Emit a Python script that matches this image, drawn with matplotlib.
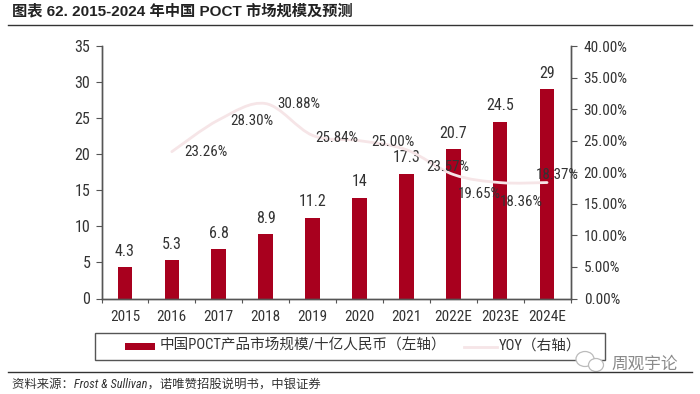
import matplotlib
matplotlib.use('Agg')
import matplotlib.pyplot as plt
import numpy as np
from matplotlib.path import Path
from matplotlib.patches import PathPatch, Rectangle, Ellipse
from matplotlib.lines import Line2D
from matplotlib.ticker import FuncFormatter
import logging
logging.getLogger('matplotlib.font_manager').setLevel(logging.ERROR)

NARROW = ['Roboto Condensed', 'Liberation Sans', 'Noto Sans CJK SC', 'DejaVu Sans']
plt.rcParams['font.family'] = NARROW

categories = ['2015', '2016', '2017', '2018', '2019', '2020', '2021', '2022E', '2023E', '2024E']
market_size = [4.3, 5.3, 6.8, 8.9, 11.2, 14, 17.3, 20.7, 24.5, 29]
size_labels = ['4.3', '5.3', '6.8', '8.9', '11.2', '14', '17.3', '20.7', '24.5', '29']
yoy = [23.26, 28.30, 30.88, 25.84, 25.00, 23.57, 19.65, 18.36, 18.37]
yoy_labels = ['23.26%', '28.30%', '30.88%', '25.84%', '25.00%', '23.57%', '19.65%', '18.36%', '18.37%']
yoy_label_offsets = [(33.6, -0.5), (32.7, -1.3), (32.8, -0.5), (24, -2.8), (33, -1.5),
                     (41, -17.5), (26, -20), (21, -19), (10.5, 8)]
left_ticks = [0, 5, 10, 15, 20, 25, 30, 35]
right_ticks = [0, 5, 10, 15, 20, 25, 30, 35, 40]

W, H = 700, 394
TXT = '#333333'
BAR = '#A8001E'
LINE = '#F6E5E7'

fig = plt.figure(figsize=(W / 100, H / 100), dpi=100, facecolor='white')
ax = fig.add_axes([101.5 / W, 1 - 298.5 / H, 469 / W, 252.5 / H])
ax2 = ax.twinx()
ax.set_zorder(1)
ax2.set_zorder(2)
ax2.patch.set_visible(False)

x = np.arange(len(categories))
ax.bar(x, market_size, width=0.31, color=BAR, zorder=2)
ax.set_xlim(-0.5, len(categories) - 0.5)
ax.set_ylim(0, 35)
ax2.set_ylim(0, 40)
ax.set_yticks(left_ticks)
ax2.set_yticks(right_ticks)
ax2.yaxis.set_major_formatter(FuncFormatter(lambda v, p: f'{v:.2f}%'))
ax.set_xticks(x, categories)
ax.set_xticks(np.arange(-0.5, len(categories), 1), minor=True)
ax.tick_params(axis='x', which='major', length=0, labelsize=11, labelcolor=TXT, pad=8.5)
ax.tick_params(axis='x', which='minor', length=3, color='#555555', direction='out', width=0.8)
ax.tick_params(axis='y', length=4.5, color='#555555', width=0.8, labelsize=11.5, labelcolor=TXT, pad=3.5)
ax2.tick_params(axis='y', length=4.5, color='#555555', width=0.8, labelsize=11, labelcolor=TXT, pad=5)
for a in (ax, ax2):
    a.spines['top'].set_visible(False)
    for s in ('left', 'right', 'bottom'):
        a.spines[s].set_color('#555555')
        a.spines[s].set_linewidth(1.0)

for xi, v, t in zip(x, market_size, size_labels):
    ax.annotate(t, (xi, v), xytext=(0, 6), textcoords='offset points', ha='center', va='bottom',
                fontsize=11.5, color=TXT, zorder=5)

# smooth curve through the YOY values (Catmull-Rom as cubic Bezier segments)
xl = x[1:].astype(float)
yl = np.array(yoy, dtype=float)
pts = np.column_stack([xl, yl])
verts = [pts[0]]
codes = [Path.MOVETO]
for i in range(len(pts) - 1):
    p0 = pts[max(i - 1, 0)]
    p1, p2 = pts[i], pts[i + 1]
    p3 = pts[min(i + 2, len(pts) - 1)]
    verts += [p1 + (p2 - p0) / 6, p2 - (p3 - p1) / 6, p2]
    codes += [Path.CURVE4] * 3
ax2.add_patch(PathPatch(Path(verts, codes), fill=False, edgecolor=LINE, lw=2.0, capstyle='round', zorder=3))

for xi, v, t, off in zip(xl, yoy, yoy_labels, yoy_label_offsets):
    ax2.annotate(t, (xi, v), xytext=off, textcoords='offset pixels', ha='center', va='center',
                 fontsize=10.8, color=TXT, zorder=6)

def px(xp, yp):
    return xp / W, 1 - yp / H

# header
fig.text(*px(12, 11), '图表 62. 2015-2024 年中国 POCT 市场规模及预测', fontsize=11, fontweight='bold',
         family=['Liberation Sans', 'Noto Sans CJK SC', 'DejaVu Sans'], color='#222222', va='center', ha='left')
fig.add_artist(Line2D([8 / W, 692 / W], [1 - 24.5 / H] * 2, color='#333333', lw=1.0))

# legend box
fig.add_artist(Rectangle(px(94.5, 359.5), 510 / W, 26.5 / H, fill=False, edgecolor='#555555', lw=1.0,
                         transform=fig.transFigure))
fig.add_artist(Rectangle(px(125, 350), 30 / W, 7 / H, facecolor=BAR, edgecolor='none', transform=fig.transFigure))
fig.text(*px(160, 346), '中国POCT产品市场规模/十亿人民币（左轴）', fontsize=10.5, color=TXT, va='center', ha='left')
fig.add_artist(Line2D([464 / W, 497 / W], [1 - 346.5 / H] * 2, color=LINE, lw=2.0))
fig.text(*px(499, 346), 'YOY（右轴）', fontsize=10.5, color=TXT, va='center', ha='left')

# footer
fig.add_artist(Line2D([8 / W, 692 / W], [1 - 372 / H] * 2, color='#333333', lw=1.0))
fig.text(*px(12, 384), '资料来源：Frost & Sullivan，诺唯赞招股说明书，中银证券', fontsize=8.9, color='#333333',
         style='italic', va='center', ha='left')

# watermark
fig.text(*px(611, 364), '周观宇论', fontsize=12, color='#8a8a8a', va='center', ha='left')
for cx, cy, ew, eh in [(585, 359, 18, 15), (596, 365, 15, 13)]:
    fig.add_artist(Ellipse(px(cx, cy), ew / W, eh / H, facecolor='white', edgecolor='#bbbbbb', lw=0.9,
                           transform=fig.transFigure))

fig.savefig('out.png', dpi=100, facecolor='white')
